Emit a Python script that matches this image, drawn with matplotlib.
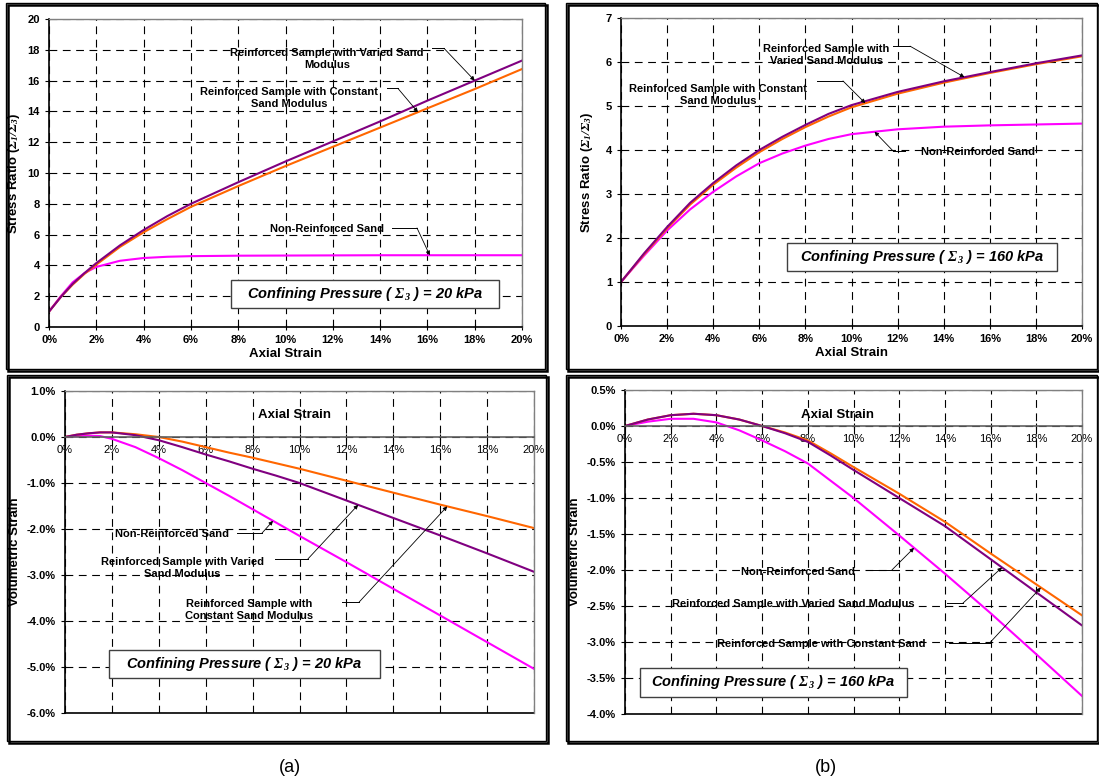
import numpy as np
import matplotlib.pyplot as plt
from matplotlib.patches import Rectangle
from matplotlib.ticker import FuncFormatter

plt.rcParams['font.family'] = ['Liberation Sans', 'DejaVu Sans']
plt.rcParams['mathtext.fontset'] = 'custom'
plt.rcParams['mathtext.bf'] = 'Liberation Serif:bold:italic'
plt.rcParams['mathtext.rm'] = 'Liberation Sans:bold'

# ---- data (axial strain in %, stress ratio / volumetric strain in %) ----
# (a) top: stress ratio, confining pressure 20 kPa
sr20_strain = [0, 0.5, 1, 1.5, 2, 3, 4, 5, 6, 8, 10, 12, 14, 16, 18, 20]
sr20_varied = [1.0, 1.95, 2.8, 3.5, 4.15, 5.3, 6.3, 7.2, 8.0, 9.4, 10.75, 12.05, 13.35, 14.7, 16.0, 17.3]
sr20_const = [1.0, 1.95, 2.75, 3.45, 4.05, 5.2, 6.15, 7.0, 7.8, 9.15, 10.45, 11.7, 12.95, 14.2, 15.45, 16.75]
sr20_nonrf = [1.0, 2.0, 2.9, 3.5, 3.9, 4.3, 4.48, 4.56, 4.6, 4.63, 4.64, 4.65, 4.66, 4.66, 4.66, 4.66]

# (b) top: stress ratio, confining pressure 160 kPa
sr160_strain = [0, 1, 2, 3, 4, 5, 6, 7, 8, 9, 10, 12, 14, 16, 18, 20]
sr160_varied = [1.0, 1.65, 2.25, 2.8, 3.25, 3.65, 4.0, 4.3, 4.57, 4.82, 5.02, 5.32, 5.56, 5.77, 5.97, 6.15]
sr160_const = [1.0, 1.63, 2.22, 2.76, 3.21, 3.6, 3.95, 4.25, 4.52, 4.76, 4.97, 5.28, 5.53, 5.75, 5.95, 6.13]
sr160_nonrf = [1.0, 1.6, 2.17, 2.65, 3.05, 3.4, 3.7, 3.92, 4.1, 4.25, 4.36, 4.47, 4.53, 4.56, 4.58, 4.6]

# (a) bottom: volumetric strain, 20 kPa
vs20_strain = [0, 0.5, 1, 1.5, 2, 3, 4, 5, 6, 7, 8, 9, 10, 12, 14, 16, 18, 20]
vs20_const = [0, 0.05, 0.08, 0.1, 0.1, 0.06, 0.0, -0.1, -0.22, -0.34, -0.45, -0.57, -0.69, -0.95, -1.21, -1.47, -1.72, -1.98]
vs20_varied = [0, 0.05, 0.08, 0.1, 0.1, 0.04, -0.07, -0.22, -0.38, -0.53, -0.69, -0.84, -1.0, -1.38, -1.76, -2.14, -2.53, -2.93]
vs20_nonrf = [0, 0.02, 0.03, 0.02, -0.04, -0.22, -0.46, -0.72, -1.0, -1.28, -1.57, -1.86, -2.15, -2.72, -3.3, -3.88, -4.46, -5.04]

# (b) bottom: volumetric strain, 160 kPa
vs160_strain = [0, 1, 2, 3, 4, 5, 6, 7, 8, 9, 10, 12, 14, 16, 18, 20]
vs160_const = [0, 0.09, 0.15, 0.17, 0.15, 0.09, 0.0, -0.09, -0.2, -0.38, -0.57, -0.94, -1.33, -1.77, -2.2, -2.63]
vs160_varied = [0, 0.09, 0.15, 0.17, 0.15, 0.09, 0.0, -0.1, -0.22, -0.41, -0.61, -1.0, -1.39, -1.85, -2.31, -2.77]
vs160_nonrf = [0, 0.06, 0.1, 0.1, 0.05, -0.06, -0.2, -0.35, -0.52, -0.76, -1.0, -1.52, -2.05, -2.6, -3.17, -3.75]

C_VAR = '#800080'
C_CON = '#FF6600'
C_NON = '#FF00FF'

W, H = 1099, 781
fig = plt.figure(figsize=(W / 100, H / 100), dpi=100)


def px_box(l, t, r, b):
    return [l / W, 1 - b / H, (r - l) / W, (b - t) / H]


# panel frames (double border look)
for l, t, r, b in [(6, 3, 545, 369), (566, 3, 1097, 369), (7, 375, 546, 741), (566, 375, 1097, 741)]:
    fig.patches.append(Rectangle((l / W, 1 - b / H), (r - l) / W, (b - t) / H,
                                 transform=fig.transFigure, fill=False, lw=1.0, ec='black'))
    fig.patches.append(Rectangle(((l + 1.5) / W, 1 - (b + 1.5) / H), (r - l) / W, (b - t) / H,
                                 transform=fig.transFigure, fill=False, lw=1.8, ec='black', zorder=0))


def style(ax, ylim, yticks, yfmt):
    ax.set_xlim(0, 20)
    ax.set_ylim(*ylim)
    ax.set_xticks(range(0, 21, 2))
    ax.set_yticks(yticks)
    ax.xaxis.set_major_formatter(FuncFormatter(lambda v, p: '%d%%' % round(v)))
    ax.yaxis.set_major_formatter(FuncFormatter(yfmt))
    ax.grid(True, color='black', lw=0.8, linestyle=(0, (7, 5)))
    ax.set_axisbelow(True)
    for s in ['top', 'right']:
        ax.spines[s].set_color('#808080')
        ax.spines[s].set_linewidth(1.0)
    ax.spines['left'].set_linewidth(1.2)
    ax.spines['bottom'].set_linewidth(1.2)
    ax.tick_params(axis='both', labelsize=8, length=3, width=0.8)
    ax.tick_params(axis='x', direction='inout', length=5)
    for lab in ax.get_xticklabels() + ax.get_yticklabels():
        lab.set_fontweight('bold')


def callout(ax, text, txy, segx, segy, tx, xs, ys):
    ax.text(txy[0], txy[1], text, ha='center', va='center', fontsize=8,
            fontweight='bold', linespacing=1.25)
    ax.plot(segx, [segy, segy], color='black', lw=0.7)
    ty = np.interp(tx, xs, ys)
    ax.annotate('', xy=(tx, ty), xytext=(segx[1], segy),
                arrowprops=dict(arrowstyle='-|>', color='black', lw=0.6,
                                mutation_scale=6, shrinkA=0, shrinkB=0))


def boxtext(ax, kpa, x0, x1, y0, y1):
    ax.add_patch(Rectangle((x0, y0), x1 - x0, y1 - y0, fc='white', ec='#404040', lw=1.0, zorder=3))
    ax.text((x0 + x1) / 2, (y0 + y1) / 2,
            r'Confining Pressure ( $\mathbf{\Sigma_3}$ ) = %d kPa' % kpa,
            ha='center', va='center', fontsize=10.5, fontweight='bold', fontstyle='italic', zorder=4)


def labels(ax, xlabel=True, ylabel='', ypad=4):
    if xlabel:
        ax.set_xlabel('Axial Strain', fontsize=9.5, fontweight='bold', labelpad=2)
    ax.set_ylabel(ylabel, fontsize=9.5, fontweight='bold', labelpad=ypad)


SR_LABEL = r'Stress Ratio ($\mathbf{\Sigma_1/\Sigma_3}$)'

# ---------- (a) top ----------
ax = fig.add_axes(px_box(49, 19, 522, 327))
ax.plot(sr20_strain, sr20_nonrf, color=C_NON, lw=1.5)
ax.plot(sr20_strain, sr20_const, color=C_CON, lw=1.5)
ax.plot(sr20_strain, sr20_varied, color=C_VAR, lw=1.5)
style(ax, (0, 20), range(0, 21, 2), lambda v, p: '%d' % v)
labels(ax, True, SR_LABEL, 4)
callout(ax, 'Reinforced Sample with Varied Sand\nModulus', (11.75, 17.4), [16.2, 16.7], 18.1,
        18.0, sr20_strain, sr20_varied)
callout(ax, 'Reinforced Sample with Constant\nSand Modulus', (10.15, 14.9), [14.3, 14.75], 15.5,
        15.6, sr20_strain, sr20_const)
callout(ax, 'Non-Reinforced Sand', (11.75, 6.36), [14.5, 15.56], 6.43,
        16.1, sr20_strain, sr20_nonrf)
boxtext(ax, 20, 7.7, 19.03, 1.22, 3.04)

# ---------- (b) top ----------
ax = fig.add_axes(px_box(621, 18, 1082, 326))
ax.plot(sr160_strain, sr160_nonrf, color=C_NON, lw=1.5)
ax.plot(sr160_strain, sr160_const, color=C_CON, lw=1.5)
ax.plot(sr160_strain, sr160_varied, color=C_VAR, lw=1.5)
style(ax, (0, 7), range(0, 8), lambda v, p: '%d' % v)
labels(ax, True, SR_LABEL, 8)
callout(ax, 'Reinforced Sample with\nVaried Sand Modulus', (8.9, 6.16), [11.8, 12.54], 6.36,
        14.9, sr160_strain, sr160_varied)
callout(ax, 'Reinforced Sample with Constant\nSand Modulus', (4.2, 5.25), [8.5, 9.63], 5.57,
        10.6, sr160_strain, sr160_const)
callout(ax, 'Non-Reinforced Sand', (15.5, 3.95), [12.3, 11.8], 3.98,
        11.0, sr160_strain, sr160_nonrf)
boxtext(ax, 160, 7.2, 18.9, 1.25, 1.89)


def vol_axes(ax, ymin, ymax, step):
    style(ax, (ymin, ymax), np.arange(ymin, ymax + step / 2, step), lambda v, p: '%.1f%%' % v)
    ax.spines['bottom'].set_position(('data', 0))
    ax.spines['bottom'].set_color('#606060')
    ax.axhline(ymin, color='black', lw=1.2, clip_on=False)


# ---------- (a) bottom ----------
ax = fig.add_axes(px_box(65, 391, 534, 713))
ax.plot(vs20_strain, vs20_nonrf, color=C_NON, lw=1.5)
ax.plot(vs20_strain, vs20_const, color=C_CON, lw=1.5)
ax.plot(vs20_strain, vs20_varied, color=C_VAR, lw=1.5)
vol_axes(ax, -6, 1, 1)
labels(ax, False, 'Volumetric Strain', 4)
ax.text(9.77, 0.48, 'Axial Strain', ha='center', va='center', fontsize=9.5, fontweight='bold')
callout(ax, 'Non-Reinforced Sand', (4.56, -2.11), [7.33, 8.4], -2.09,
        8.87, vs20_strain, vs20_nonrf)
callout(ax, 'Reinforced Sample with Varied\nSand Modulus', (5.0, -2.85), [8.96, 10.36], -2.65,
        12.5, vs20_strain, vs20_varied)
callout(ax, 'Reinforced Sample with\nConstant Sand Modulus', (7.85, -3.76), [11.81, 12.54], -3.59,
        16.3, vs20_strain, vs20_const)
boxtext(ax, 20, 1.88, 13.43, -5.24, -4.63)

# ---------- (b) bottom ----------
ax = fig.add_axes(px_box(625, 390, 1082, 714))
ax.plot(vs160_strain, vs160_nonrf, color=C_NON, lw=1.5)
ax.plot(vs160_strain, vs160_const, color=C_CON, lw=1.5)
ax.plot(vs160_strain, vs160_varied, color=C_VAR, lw=1.5)
vol_axes(ax, -4, 0.5, 0.5)
labels(ax, False, 'Volumetric Strain', 4)
ax.text(9.32, 0.15, 'Axial Strain', ha='center', va='center', fontsize=9.5, fontweight='bold')
callout(ax, 'Non-Reinforced Sand', (7.57, -2.03), [10.81, 11.68], -2.0,
        12.65, vs160_strain, vs160_nonrf)
callout(ax, 'Reinforced Sample with Varied Sand Modulus', (7.35, -2.47), [14.09, 14.79], -2.46,
        16.5, vs160_strain, vs160_varied)
callout(ax, 'Reinforced Sample with Constant Sand', (8.58, -3.03), [14.18, 15.97], -3.01,
        18.2, vs160_strain, vs160_const)
boxtext(ax, 160, 0.66, 12.34, -3.76, -3.36)

fig.text(290 / W, 1 - 767 / H, '(a)', ha='center', va='center', fontsize=13)
fig.text(826 / W, 1 - 767 / H, '(b)', ha='center', va='center', fontsize=13)

fig.savefig('out.png', dpi=100)
